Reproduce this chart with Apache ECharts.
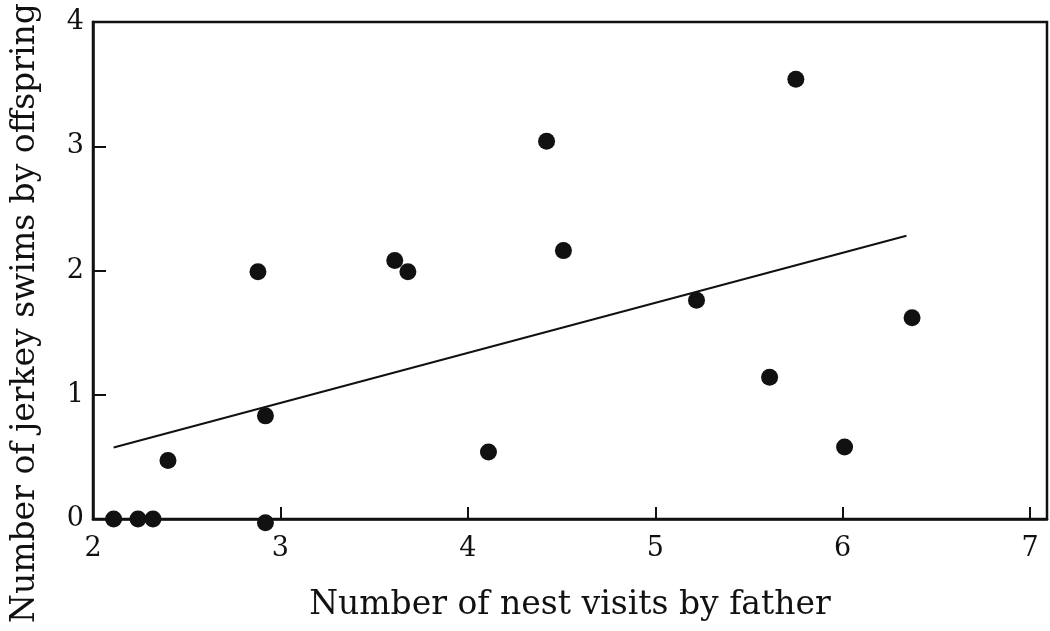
<!DOCTYPE html>
<html>
<head>
<meta charset="utf-8">
<script src="https://cdn.jsdelivr.net/npm/echarts@6/dist/echarts.min.js"></script>
<style>
html,body{margin:0;padding:0;background:#fff;}
#chart{width:1050px;height:631px;}
</style>
</head>
<body>
<div id="chart"></div>
<script>
// Data
const nestVisits = [2.11, 2.24, 2.32, 2.40, 2.88, 2.92, 2.92, 3.61, 3.68, 4.11, 4.42, 4.51, 5.22, 5.61, 5.75, 6.01, 6.37];
const jerkeySwims = [0, 0, 0, 0.47, 1.99, 0.83, -0.03, 2.08, 1.99, 0.54, 3.04, 2.16, 1.76, 1.14, 3.54, 0.58, 1.62];
const fitX = [2.11, 6.34];
const fitY = [0.575, 2.28];
const xTicks = [2, 3, 4, 5, 6, 7];
const yTicks = [0, 1, 2, 3, 4];
const xTitle = 'Number of nest visits by father';
const yTitle = 'Number of jerkey swims by offspring';

const FONT = '"DejaVu Serif", "Liberation Serif", serif';
const INK = '#111';

const chart = echarts.init(document.getElementById('chart'), null, {renderer: 'canvas'});
chart.setOption({
  animation: false,
  backgroundColor: '#fff',
  grid: {left: 93, top: 22, right: 2, bottom: 112, show: true, borderColor: INK, borderWidth: 2.5, backgroundColor: 'transparent'},
  xAxis: {
    type: 'value', min: xTicks[0], max: 7.09, interval: 1,
    axisLine: {show: true, onZero: false, lineStyle: {color: INK, width: 2.5}},
    axisTick: {show: true, inside: true, length: 12, lineStyle: {color: INK, width: 2}},
    splitLine: {show: false},
    axisLabel: {
      margin: 16, color: INK, fontFamily: FONT, fontSize: 27,
      formatter: v => (xTicks.includes(Math.round(v * 1000) / 1000) ? String(v) : ''),
      showMaxLabel: true
    },
    name: xTitle, nameLocation: 'middle', nameGap: 70,
    nameTextStyle: {color: INK, fontFamily: FONT, fontSize: 33}
  },
  yAxis: {
    type: 'value', min: yTicks[0], max: yTicks[yTicks.length - 1], interval: 1,
    axisLine: {show: true, onZero: false, lineStyle: {color: INK, width: 2.5}},
    axisTick: {show: true, inside: true, length: 13, lineStyle: {color: INK, width: 2}},
    splitLine: {show: false},
    axisLabel: {margin: 9, color: INK, fontFamily: FONT, fontSize: 27}
  },
  graphic: [{
    type: 'text', x: 25, y: 313, rotation: Math.PI / 2,
    style: {text: yTitle, fill: INK, font: '33px ' + FONT, textAlign: 'center', textVerticalAlign: 'middle'}
  }],
  series: [
    {
      type: 'line',
      data: fitX.map((x, i) => [x, fitY[i]]),
      showSymbol: false, symbol: 'none',
      lineStyle: {color: INK, width: 2},
      z: 2
    },
    {
      type: 'scatter',
      clip: false,
      data: nestVisits.map((x, i) => [x, jerkeySwims[i]]),
      symbol: 'circle', symbolSize: 17,
      itemStyle: {color: INK, opacity: 1},
      z: 3
    }
  ]
});
</script>
</body>
</html>
